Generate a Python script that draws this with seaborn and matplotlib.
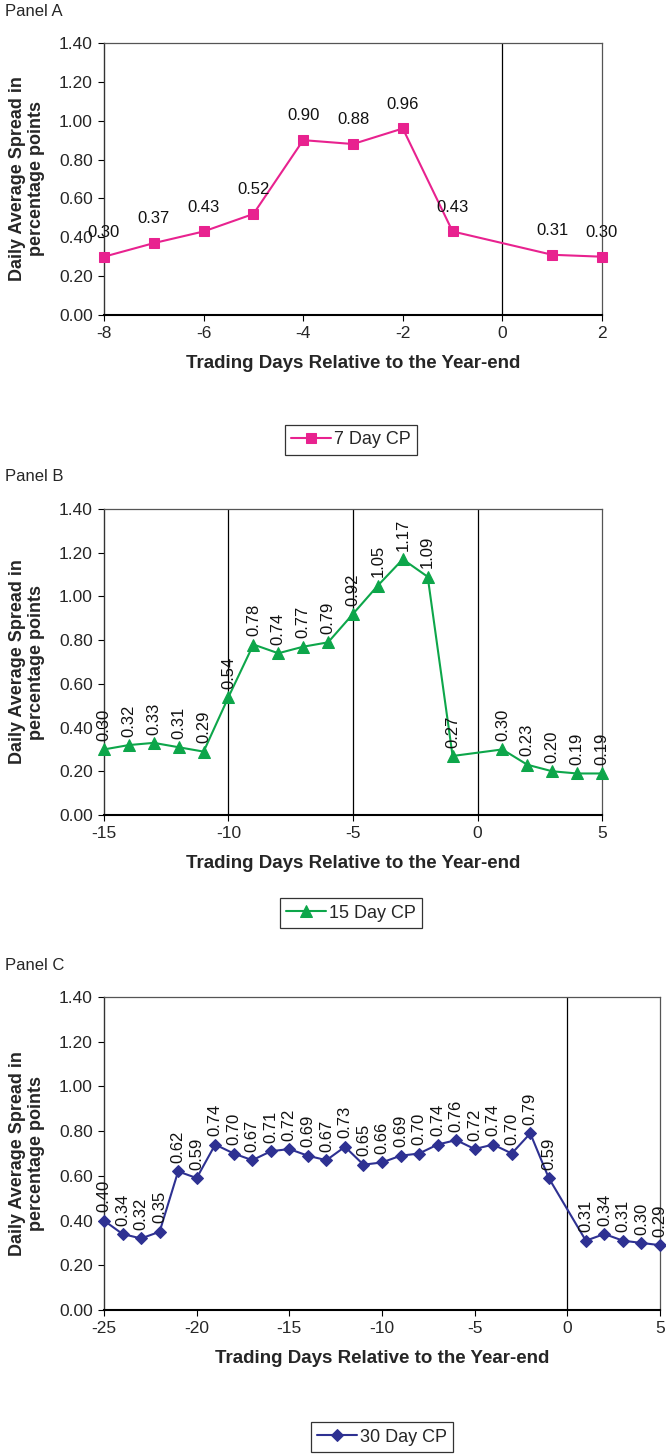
import matplotlib
matplotlib.use("Agg")
import matplotlib.pyplot as plt
import seaborn as sns
import pandas as pd

sns.set_theme(style="white")
plt.rcParams["font.family"] = ["Liberation Sans", "DejaVu Sans"]

# Panel A: 7-day commercial paper
days_a = [-8, -7, -6, -5, -4, -3, -2, -1, 1, 2]
spread_a = [0.30, 0.37, 0.43, 0.52, 0.90, 0.88, 0.96, 0.43, 0.31, 0.30]

# Panel B: 15-day commercial paper
days_b = [-15, -14, -13, -12, -11, -10, -9, -8, -7, -6, -5, -4, -3, -2, -1,
          1, 2, 3, 4, 5]
spread_b = [0.30, 0.32, 0.33, 0.31, 0.29, 0.54, 0.78, 0.74, 0.77, 0.79, 0.92,
            1.05, 1.17, 1.09, 0.27, 0.30, 0.23, 0.20, 0.19, 0.19]

# Panel C: 30-day commercial paper
days_c = [-25, -24, -23, -22, -21, -20, -19, -18, -17, -16, -15, -14, -13,
          -12, -11, -10, -9, -8, -7, -6, -5, -4, -3, -2, -1, 1, 2, 3, 4, 5]
spread_c = [0.40, 0.34, 0.32, 0.35, 0.62, 0.59, 0.74, 0.70, 0.67, 0.71, 0.72,
            0.69, 0.67, 0.73, 0.65, 0.66, 0.69, 0.70, 0.74, 0.76, 0.72, 0.74,
            0.70, 0.79, 0.59, 0.31, 0.34, 0.31, 0.30, 0.29]

panels = [
    dict(title="Panel A", days=days_a, spread=spread_a, name="7 Day CP",
         color="#E8228F", marker="s", ms=7, xlim=(-8, 2), xstep=2,
         vlines=[0], rot=0,
         rect=(104, 43, 602, 315), legend_y=440, legend_x=351),
    dict(title="Panel B", days=days_b, spread=spread_b, name="15 Day CP",
         color="#0DA64A", marker="^", ms=8, xlim=(-15, 5), xstep=5,
         vlines=[-10, -5, 0], rot=90,
         rect=(104, 509, 602, 815), legend_y=913, legend_x=351),
    dict(title="Panel C", days=days_c, spread=spread_c, name="30 Day CP",
         color="#2E3192", marker="D", ms=6, xlim=(-25, 5), xstep=5,
         vlines=[0], rot=90,
         rect=(104, 997, 660, 1310), legend_y=1437, legend_x=382),
]

W, H = 666, 1456
fig = plt.figure(figsize=(W / 100, H / 100), dpi=100)

for p in panels:
    x0, y0, x1, y1 = p["rect"]
    ax = fig.add_axes([x0 / W, 1 - y1 / H, (x1 - x0) / W, (y1 - y0) / H])
    df = pd.DataFrame({"day": p["days"], "spread": p["spread"]})
    sns.lineplot(data=df, x="day", y="spread", ax=ax, color=p["color"],
                 marker=p["marker"], markersize=p["ms"],
                 markeredgecolor=p["color"], linewidth=1.5,
                 label=p["name"], clip_on=False, zorder=3)
    for v in p["vlines"]:
        ax.axvline(v, color="black", linewidth=0.9, zorder=1)

    for d, s in zip(p["days"], p["spread"]):
        if p["rot"] == 0:
            ax.annotate(f"{s:.2f}", (d, s), xytext=(0, 12),
                        textcoords="offset points", ha="center",
                        va="bottom", fontsize=12, color="#111111")
        else:
            ax.annotate(f"{s:.2f}", (d, s), xytext=(0, 6),
                        textcoords="offset points", ha="center",
                        va="bottom", rotation=90, fontsize=12,
                        color="#111111")

    ax.set_xlim(*p["xlim"])
    ax.set_ylim(0, 1.4)
    ax.set_yticks([i * 0.2 for i in range(8)])
    ax.set_yticklabels([f"{i * 0.2:.2f}" for i in range(8)], fontsize=12.5)
    xt = list(range(p["xlim"][0], p["xlim"][1] + 1, p["xstep"]))
    ax.set_xticks(xt)
    ax.set_xticklabels([str(t) for t in xt], fontsize=12.5)
    ax.tick_params(axis="both", direction="out", length=4, width=0.8,
                   color="black", bottom=True, left=True, pad=4)
    ax.spines["bottom"].set_color("black")
    ax.spines["bottom"].set_linewidth(1.5)
    ax.spines["left"].set_color("#333333")
    ax.spines["left"].set_linewidth(1.0)
    for side in ("top", "right"):
        ax.spines[side].set_color("#555555")
        ax.spines[side].set_linewidth(0.9)
    ax.set_xlabel("Trading Days Relative to the Year-end", fontsize=13.5,
                  fontweight="bold", labelpad=10)
    ax.set_ylabel("Daily Average Spread in\npercentage points", fontsize=13,
                  fontweight="bold", labelpad=10)

    leg = ax.legend(loc="center", frameon=True, fontsize=13,
                    bbox_to_anchor=(p["legend_x"] / W, 1 - p["legend_y"] / H),
                    bbox_transform=fig.transFigure, fancybox=False,
                    handlelength=2.2, handletextpad=0.2,
                    borderpad=0.35)
    leg.get_frame().set_edgecolor("black")
    leg.get_frame().set_linewidth(0.9)

    fig.text(5 / W, 1 - (y0 - 32) / H, p["title"], fontsize=12,
             ha="left", va="center")

fig.savefig("out.png", dpi=100, facecolor="white")
